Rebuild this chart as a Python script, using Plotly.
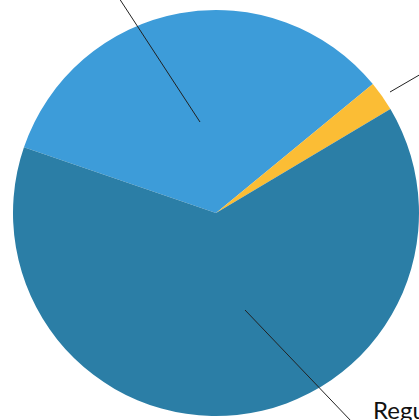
import plotly.graph_objects as go

labels = ["Other", "Minor", "Regular"]
values = [33.8, 2.4, 63.8]
colors = ["#3d9cd9", "#fbbd35", "#2b7ea6"]

W, H = 419, 420

def px(x, y):
    return x / W, 1 - y / H

dx0, dy1 = px(13, 9)
dx1, dy0 = px(419, 417)

fig = go.Figure(go.Pie(
    labels=labels,
    values=values,
    sort=False,
    direction="clockwise",
    rotation=-71.1,
    marker=dict(colors=colors, line=dict(width=0)),
    textinfo="none",
    hoverinfo="label+percent",
    showlegend=False,
    domain=dict(x=[dx0, dx1], y=[dy0, dy1]),
))

leaders = [((119, -2), (200, 122)), ((390, 92), (421, 74)), ((245, 310), (352, 422))]
for (x0, y0), (x1, y1) in leaders:
    a0, b0 = px(x0, y0)
    a1, b1 = px(x1, y1)
    fig.add_shape(type="line", xref="paper", yref="paper", x0=a0, y0=b0, x1=a1, y1=b1,
                  line=dict(color="#222222", width=1))

tx, ty = px(371, 409)
fig.add_annotation(text="Regular", xref="paper", yref="paper", x=tx, y=ty,
                   xanchor="left", yanchor="middle", showarrow=False,
                   font=dict(family="Lato", size=24, color="#111111"))

fig.update_layout(width=W, height=H, margin=dict(l=0, r=0, t=0, b=0),
                  paper_bgcolor="white", plot_bgcolor="white")
fig.write_html("out.html", config={"displayModeBar": False},
               post_script="document.body.style.margin='0';document.body.style.overflow='hidden';")
